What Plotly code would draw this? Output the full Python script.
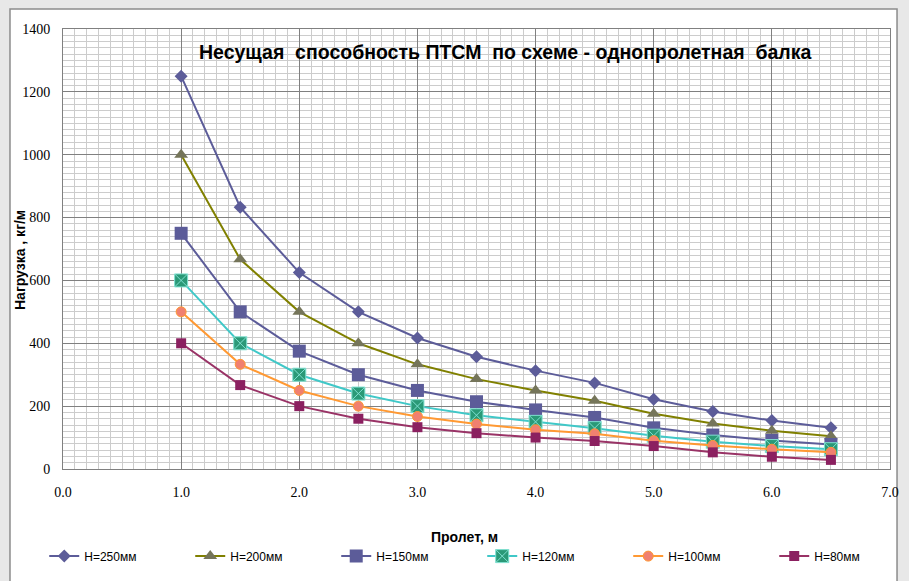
import plotly.graph_objects as go

# Span, m
span = [1.0, 1.5, 2.0, 2.5, 3.0, 3.5, 4.0, 4.5, 5.0, 5.5, 6.0, 6.5]

# Load, kg/m for each panel height
h250 = [1250, 833, 625, 500, 417, 357, 313, 274, 222, 183, 154, 131]
h200 = [1000, 667, 500, 400, 333, 286, 250, 217, 176, 145, 122, 104]
h150 = [750, 500, 375, 300, 250, 214, 188, 164, 131, 108, 91, 78]
h120 = [600, 400, 300, 240, 200, 171, 150, 130, 106, 87, 73, 63]
h100 = [500, 333, 250, 200, 167, 143, 125, 112, 90, 75, 63, 53]
h80 = [400, 267, 200, 160, 133, 114, 100, 89, 73, 53, 39, 29]

names = ['Н=250мм', 'Н=200мм', 'Н=150мм', 'Н=120мм', 'Н=100мм', 'Н=80мм']
series = [h250, h200, h150, h120, h100, h80]

styles = [
    dict(line='#5c5c99', marker='#5c5c99', symbol='diamond', size=10, mline='#5c5c99', mwidth=0),
    dict(line='#808000', marker='#75755a', symbol='triangle-up', size=12, mline='#75755a', mwidth=0),
    dict(line='#5c5c99', marker='#5c5c99', symbol='square', size=13, mline='#5c5c99', mwidth=0),
    dict(line='#40c8c8', marker='#2a9977', symbol='square-x', size=13, mline='#7fe0d0', mwidth=1),
    dict(line='#ff9933', marker='#f08070', symbol='circle', size=10, mline='#ff9933', mwidth=1),
    dict(line='#993366', marker='#8b2060', symbol='square', size=10, mline='#8b2060', mwidth=0),
]

fig = go.Figure()

for name, vals, st in zip(names, series, styles):
    fig.add_trace(go.Scatter(
        x=span, y=vals, mode='lines+markers', name=name,
        line=dict(color=st['line'], width=2),
        marker=dict(symbol=st['symbol'], size=st['size'], color=st['marker'],
                    line=dict(color=st['mline'], width=st['mwidth']))
    ))

# white chart area on grey background
fig.add_shape(type='rect', xref='paper', yref='paper',
              x0=-0.0641, x1=1.0085, y0=-0.3, y1=1.0455,
              fillcolor='white', line=dict(color='#8c8c8c', width=1.5), layer='below')

fig.add_annotation(text='<b>Несущая  способность ПТСМ  по схеме - однопролетная  балка</b>',
                   xref='paper', yref='paper', x=0.535, y=0.948, xanchor='center', yanchor='middle',
                   showarrow=False,
                   font=dict(family='Liberation Sans, Arial', size=19.5, color='black'))
fig.add_annotation(text='<b>Нагрузка , кг/м</b>', textangle=-90,
                   xref='paper', yref='paper', x=-0.052, y=0.475, xanchor='center', yanchor='middle',
                   showarrow=False,
                   font=dict(family='Liberation Sans, Arial', size=14, color='black'))
fig.add_annotation(text='<b>Пролет, м</b>',
                   xref='paper', yref='paper', x=0.486, y=-0.155, xanchor='center', yanchor='middle',
                   showarrow=False,
                   font=dict(family='Liberation Sans, Arial', size=14, color='black'))

fig.update_layout(
    width=909, height=581,
    margin=dict(l=63, r=19, t=29, b=112, autoexpand=False),
    paper_bgcolor='#e8e8e8',
    plot_bgcolor='white',
    showlegend=True,
    legend=dict(orientation='h', x=-0.0227, xanchor='left', y=-0.198, yanchor='middle',
                entrywidth=101, entrywidthmode='pixels',
                font=dict(family='Liberation Sans Narrow, Liberation Sans, Arial', size=12, color='black'),
                bgcolor='rgba(0,0,0,0)'),
    xaxis=dict(range=[0, 7], dtick=1, tickformat='.1f', showgrid=True,
               gridcolor='#808080', gridwidth=1, automargin=False,
               minor=dict(dtick=0.1, showgrid=True, gridcolor='#cccccc', gridwidth=1),
               showline=True, linecolor='#808080', linewidth=1, mirror=True,
               zeroline=False, ticks='', ticklabelstandoff=10,
               tickfont=dict(family='Liberation Serif, Times New Roman', size=14, color='black')),
    yaxis=dict(range=[0, 1400], dtick=200, showgrid=True,
               gridcolor='#808080', gridwidth=1, automargin=False,
               minor=dict(dtick=20, showgrid=True, gridcolor='#cccccc', gridwidth=1),
               showline=True, linecolor='#808080', linewidth=1, mirror=True,
               zeroline=False, ticks='', ticklabelstandoff=9,
               tickfont=dict(family='Liberation Serif, Times New Roman', size=14, color='black')),
)

# page body margin would shift the figure, so drop it
fig.write_html('out.html', config={'displayModeBar': False},
               post_script="document.body.style.margin='0px';")
